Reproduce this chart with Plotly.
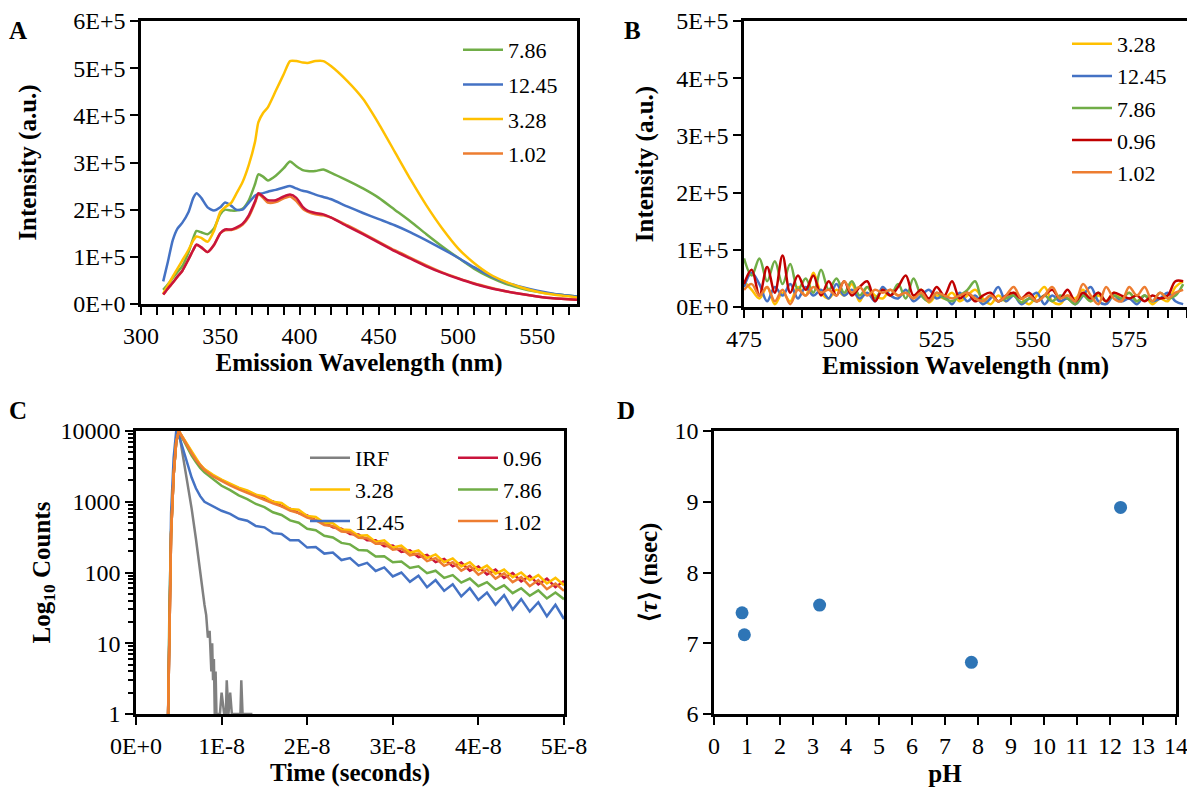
import plotly.graph_objects as go

# ---------------- Panel A data (emission spectra) ----------------
A_WL = [314, 317, 320, 323, 326, 330, 333, 335, 338, 342, 346, 350, 353, 357, 360, 364,
        368, 372, 374, 377, 380, 385, 390, 394, 398, 402, 405, 410, 415, 420, 430, 440,
        450, 460, 470, 480, 490, 500, 510, 520, 530, 540, 550, 560, 575]
A_786 = [0.30, 0.42, 0.55, 0.68, 0.80, 1.10, 1.40, 1.55, 1.52, 1.48, 1.60, 1.90, 2.00, 1.98, 1.98, 2.02,
         2.20, 2.55, 2.75, 2.70, 2.62, 2.72, 2.88, 3.02, 2.92, 2.84, 2.82, 2.82, 2.85, 2.78, 2.62, 2.45,
         2.25, 2.00, 1.75, 1.48, 1.22, 0.98, 0.75, 0.57, 0.43, 0.33, 0.26, 0.21, 0.16]
A_1245 = [0.48, 0.90, 1.35, 1.60, 1.72, 1.95, 2.25, 2.35, 2.25, 2.05, 1.98, 2.05, 2.15, 2.08, 2.00, 2.00,
          2.15, 2.30, 2.33, 2.35, 2.38, 2.42, 2.47, 2.50, 2.45, 2.40, 2.38, 2.32, 2.27, 2.22, 2.07, 1.93,
          1.80, 1.67, 1.52, 1.35, 1.17, 0.98, 0.78, 0.60, 0.46, 0.36, 0.28, 0.22, 0.16]
A_328 = [0.22, 0.40, 0.58, 0.75, 0.92, 1.15, 1.35, 1.43, 1.40, 1.32, 1.55, 1.95, 2.05, 2.15, 2.33, 2.58,
         2.95, 3.45, 3.85, 4.05, 4.17, 4.52, 4.87, 5.15, 5.15, 5.12, 5.11, 5.15, 5.15, 5.04, 4.73, 4.35,
         3.82, 3.23, 2.64, 2.09, 1.60, 1.18, 0.87, 0.63, 0.47, 0.35, 0.26, 0.20, 0.14]
A_102 = [0.20, 0.33, 0.45, 0.58, 0.70, 0.95, 1.15, 1.25, 1.20, 1.10, 1.25, 1.50, 1.56, 1.57, 1.60, 1.68,
         1.85, 2.15, 2.33, 2.25, 2.15, 2.16, 2.24, 2.28, 2.18, 2.02, 1.96, 1.90, 1.88, 1.83, 1.67, 1.50,
         1.32, 1.14, 0.98, 0.82, 0.67, 0.55, 0.44, 0.35, 0.27, 0.21, 0.16, 0.12, 0.09]
A_096 = [0.20, 0.33, 0.45, 0.58, 0.70, 0.95, 1.15, 1.26, 1.20, 1.10, 1.25, 1.50, 1.58, 1.58, 1.62, 1.70,
         1.88, 2.18, 2.35, 2.28, 2.20, 2.20, 2.28, 2.32, 2.25, 2.06, 1.98, 1.93, 1.90, 1.83, 1.65, 1.48,
         1.30, 1.12, 0.96, 0.80, 0.66, 0.54, 0.43, 0.34, 0.27, 0.21, 0.16, 0.12, 0.09]
A_SCALE = 1e5  # values above are in units of 1E+5 a.u.

# ---------------- Panel B data (emission above 475 nm) ----------------
B_WL = list(range(475, 590, 2))
B_328 = [4.5, 3.0, 1.5, 3.5, 0.5, 2.5, 1.0, 3.5, 2.0, 6.0, 2.5, 1.5, 3.0, 2.0, 4.0, 1.0, 3.5, 2.0, 1.5, 3.0,
         2.0, 2.5, 1.5, 3.0, 0.8, 2.0, 1.5, 2.5, 1.0, 2.0, 3.0, 1.5, 0.5, 2.0, 1.0, 2.5, 1.5, 0.5, 2.0, 3.5,
         1.0, 0.5, 2.0, 1.5, 3.0, 1.0, 2.0, 1.0, 2.5, 1.5, 2.5, 1.0, 2.0, 0.5, 1.5, 1.0, 3.5, 4.5]
B_1245 = [3.5, 6.0, 4.0, 1.0, 3.5, 2.0, 4.0, 1.5, 3.5, 2.0, 3.0, 1.5, 4.0, 2.0, 3.0, 1.5, 2.5, 1.0, 3.5, 2.0,
          1.5, 3.0, 1.0, 2.0, 3.0, 1.5, 2.0, 0.5, 2.5, 1.0, 2.0, 0.5, 1.5, 3.5, 1.0, 2.0, 0.5, 1.5, 2.5, 0.5,
          2.0, 1.0, 1.5, 0.5, 2.0, 3.5, 1.0, 0.5, 2.0, 1.0, 1.5, 0.5, 2.0, 1.0, 1.5, 2.5, 1.0, 0.5]
B_786 = [8.5, 5.5, 8.5, 4.5, 8.0, 4.0, 7.5, 3.0, 5.0, 2.5, 6.5, 3.0, 5.0, 2.5, 4.5, 2.0, 3.5, 1.5, 3.0, 2.0,
         4.0, 1.5, 5.0, 2.0, 1.0, 2.5, 1.5, 1.0, 2.0, 3.0, 4.5, 1.0, 2.0, 1.0, 1.5, 2.0, 0.8, 1.5, 1.0, 2.0,
         1.0, 2.0, 1.5, 0.5, 2.0, 1.0, 2.5, 1.0, 2.0, 1.5, 2.5, 1.0, 2.0, 1.0, 2.5, 1.5, 2.0, 4.0]
B_096 = [4.0, 6.5, 2.0, 7.0, 2.5, 9.0, 2.5, 5.5, 3.0, 5.5, 2.0, 4.5, 2.0, 4.5, 2.0, 3.5, 4.5, 1.0, 3.0, 2.0,
         3.5, 5.5, 2.0, 3.0, 1.5, 3.5, 2.0, 4.5, 1.5, 2.5, 1.0, 2.0, 2.5, 1.0, 2.0, 2.5, 1.5, 2.5, 1.0, 2.0,
         3.0, 1.5, 3.0, 1.0, 2.5, 1.5, 2.5, 1.0, 2.5, 2.0, 1.5, 2.0, 1.0, 2.0, 1.5, 2.0, 4.5, 4.5]
B_102 = [3.0, 4.0, 2.0, 3.5, 1.0, 3.0, 0.5, 3.0, 2.0, 3.5, 2.5, 3.0, 2.0, 4.5, 2.5, 3.5, 2.0, 3.0, 2.5, 3.0,
         2.0, 2.5, 1.5, 2.5, 1.0, 2.5, 2.0, 1.5, 2.0, 2.5, 1.5, 1.0, 2.0, 1.0, 2.0, 3.5, 1.5, 2.0, 1.0, 2.0,
         3.5, 1.5, 2.0, 1.0, 4.0, 2.0, 0.5, 3.5, 1.5, 1.0, 3.5, 2.0, 3.5, 1.0, 2.5, 1.5, 2.5, 3.0]
B_SCALE = 1e4  # values above are in units of 1E+4 a.u.

# ---------------- Panel C data (fluorescence decays, time in ns) ----------------
C_T = [3.75, 3.9, 4.1, 4.4, 4.7, 5.0, 5.5, 6.0, 6.5, 7.0, 7.5,
       8, 9, 10, 11, 12, 13, 14, 15, 16, 17, 18, 19, 20, 21, 22, 23, 24, 25, 26, 27, 28, 29,
       30, 31, 32, 33, 34, 35, 36, 37, 38, 39, 40, 41, 42, 43, 44, 45, 46, 47, 48, 49, 50]
C_328 = [1, 25, 350, 2400, 7000, 10000, 8000, 6300, 5050, 4050, 3350,
         2900, 2400, 2050, 1820, 1580, 1450, 1260, 1190, 1000, 960, 790, 770, 630, 610, 500, 495, 405, 400,
         330, 335, 270, 285, 225, 240, 190, 205, 160, 180, 140, 158, 122, 140, 108, 125, 96, 110, 86, 100,
         78, 92, 70, 84, 66]
C_096 = [1, 25, 350, 2400, 7000, 10000, 7900, 6200, 4950, 3950, 3300,
         2850, 2330, 2010, 1740, 1560, 1370, 1250, 1090, 1010, 870, 800, 690, 640, 545, 510, 435, 415, 350,
         345, 285, 285, 235, 240, 195, 205, 165, 178, 140, 156, 122, 138, 106, 122, 94, 110, 84, 98, 75,
         90, 68, 82, 62, 76]
C_102 = [1, 25, 350, 2400, 7000, 10000, 7800, 6100, 4850, 3900, 3250,
         2800, 2280, 1950, 1700, 1500, 1330, 1190, 1070, 950, 860, 750, 690, 595, 550, 470, 450, 380, 370,
         310, 305, 255, 258, 210, 218, 175, 185, 145, 160, 124, 140, 106, 124, 93, 110, 82, 97, 73, 86,
         64, 78, 58, 70, 55]
C_786 = [1, 30, 380, 2400, 7000, 10000, 7600, 5800, 4500, 3650, 3000,
         2600, 2060, 1680, 1460, 1230, 1090, 930, 840, 710, 650, 545, 505, 415, 395, 330, 312, 262, 250,
         208, 205, 168, 170, 140, 143, 116, 122, 98, 106, 84, 92, 72, 82, 64, 73, 57, 66, 51, 60,
         47, 56, 43, 52, 42]
C_1245 = [1, 40, 700, 4200, 10000, 8800, 5500, 3500, 2200, 1550, 1200,
          1000, 860, 745, 675, 575, 540, 455, 435, 360, 350, 285, 285, 225, 230, 185, 192, 150, 160,
          125, 137, 105, 118, 88, 100, 74, 90, 62, 78, 55, 68, 46, 60, 41, 52, 35, 48, 30, 42,
          28, 38, 24, 35, 22]
IRF_T = [3.75, 3.9, 4.1, 4.4, 4.7, 5.0, 5.5, 6.0, 6.5, 7.0, 7.5, 8.0, 8.2, 8.4, 8.6, 8.8, 8.9, 9.0,
         9.1, 9.2, 9.3, 9.4, 9.6, 9.8, 10.0, 10.3, 10.5, 10.6, 10.8, 11.0, 11.2, 11.4, 12.0, 12.2,
         12.3, 12.45, 12.6, 13.6]
IRF = [1, 25, 350, 2400, 7000, 10000, 4500, 1900, 800, 300, 95, 35, 25, 12, 15, 4, 10, 3,
       6, 1, 4, 1, 1, 1, 2, 1, 1, 3, 1, 2, 1, 1, 1, 1, 3, 1, 1, 1]
NS = 1e-9

# ---------------- Panel D data (average lifetime vs pH) ----------------
D_PH = [0.85, 0.92, 3.20, 7.80, 12.32]
D_TAU = [7.43, 7.12, 7.54, 6.73, 8.92]

# ---------------- labels ----------------
A_YTICKS = [0, 1e5, 2e5, 3e5, 4e5, 5e5, 6e5]
A_YTEXT = ["0E+0", "1E+5", "2E+5", "3E+5", "4E+5", "5E+5", "6E+5"]
B_YTICKS = [0, 1e5, 2e5, 3e5, 4e5, 5e5]
B_YTEXT = ["0E+0", "1E+5", "2E+5", "3E+5", "4E+5", "5E+5"]
C_XTICKS = [0, 1e-8, 2e-8, 3e-8, 4e-8, 5e-8]
C_XTEXT = ["0E+0", "1E-8", "2E-8", "3E-8", "4E-8", "5E-8"]
C_YTICKS = [1, 10, 100, 1000, 10000]
C_YTEXT = ["1", "10", "100", "1000", "10000"]
C_YMINOR = [m * d for d in (1, 10, 100, 1000) for m in (2, 3, 4, 5, 6, 7, 8, 9)]

COL = {"7.86": "#70AD47", "12.45": "#4472C4", "3.28": "#FFC000", "1.02": "#ED7D31",
       "0.96": "#C9143C", "0.96B": "#C00000", "IRF": "#808080"}

FONT = "Times New Roman"
# page has an 8 px body margin: figure is 1179x779 so that it fills the 1195x795 window
OFF = 8
W, H = 1179, 779


def px(x):
    return min(1.0, max(0.0, (x - OFF) / W))


def py(y):
    return min(1.0, max(0.0, 1 - (y - OFF) / H))


def xd(a, b):
    return [px(a), px(b)]


def yd(top, bottom):
    return [py(bottom), py(top)]


fig = go.Figure()
LW = 2.5

# Panel A
for name, vals, leg in [("7.86", A_786, True), ("12.45", A_1245, True), ("3.28", A_328, True),
                        ("1.02", A_102, True), ("0.96", A_096, False)]:
    fig.add_trace(go.Scatter(x=A_WL, y=[v * A_SCALE for v in vals], mode="lines", name=name,
                             line=dict(color=COL[name], width=LW, shape="spline", smoothing=0.6),
                             xaxis="x", yaxis="y", legend="legend", showlegend=leg,
                             legendgroup="a" + name))

# Panel B
for name, vals in [("3.28", B_328), ("12.45", B_1245), ("7.86", B_786), ("0.96", B_096), ("1.02", B_102)]:
    c = COL["0.96B"] if name == "0.96" else COL[name]
    fig.add_trace(go.Scatter(x=B_WL, y=[v * B_SCALE for v in vals], mode="lines", name=name,
                             line=dict(color=c, width=LW, shape="spline", smoothing=1.0),
                             xaxis="x2", yaxis="y2", legend="legend2", legendgroup="b" + name))

# Panel C
fig.add_trace(go.Scatter(x=[t * NS for t in IRF_T], y=IRF, mode="lines", name="IRF",
                         line=dict(color=COL["IRF"], width=LW), xaxis="x3", yaxis="y3",
                         legend="legend3", legendgroup="cIRF", legendrank=1))
for name, vals, leg, rank in [("12.45", C_1245, "legend3", 3), ("7.86", C_786, "legend4", 2),
                              ("0.96", C_096, "legend4", 1), ("3.28", C_328, "legend3", 2),
                              ("1.02", C_102, "legend4", 3)]:
    fig.add_trace(go.Scatter(x=[t * NS for t in C_T], y=vals, mode="lines", name=name,
                             line=dict(color=COL[name], width=LW), xaxis="x3", yaxis="y3",
                             legend=leg, legendgroup="c" + name, legendrank=rank))

# Panel D
fig.add_trace(go.Scatter(x=D_PH, y=D_TAU, mode="markers", name="tau",
                         marker=dict(color="#2E75B6", size=13), xaxis="x4", yaxis="y4",
                         showlegend=False))


def tf(size=24):
    return dict(family=FONT, size=size, color="black")


titlefont = dict(family=FONT, size=25, color="black", weight="bold")
common = dict(showline=True, linecolor="black", linewidth=2.5, mirror=True, ticks="outside",
              tickcolor="black", tickwidth=2, ticklen=8, showgrid=False, zeroline=False,
              automargin=False)


def leg(x, y, gap, size=22):
    return dict(x=px(x), y=py(y), font=dict(family=FONT, size=size, color="black"),
                bgcolor="rgba(0,0,0,0)", borderwidth=0,
                xanchor="left", yanchor="top", tracegroupgap=gap, itemwidth=40)


fig.update_layout(
    template="none",
    width=W, height=H, margin=dict(l=0, r=0, t=0, b=0, autoexpand=False),
    paper_bgcolor="white", plot_bgcolor="white",
    font=dict(family=FONT, color="black", size=24),
    xaxis=dict(domain=xd(141, 577), anchor="y", range=[300, 575], tick0=300, dtick=50,
               minor=dict(dtick=10, ticks="outside", ticklen=8, tickcolor="black", tickwidth=2),
               tickfont=tf(),
               title=dict(text="Emission Wavelength (nm)", font=titlefont, standoff=2), **common),
    yaxis=dict(domain=yd(21, 304), anchor="x", range=[0, 6e5], tickmode="array",
               tickvals=A_YTICKS, ticktext=A_YTEXT, tickfont=tf(),
               title=dict(text="Intensity (a.u.)", font=titlefont, standoff=30), **common),
    xaxis2=dict(domain=xd(744, 1191), anchor="y2", range=[475, 590], tick0=475, dtick=25,
                minor=dict(dtick=5, ticks="outside", ticklen=8, tickcolor="black", tickwidth=2),
                tickfont=tf(),
                title=dict(text="Emission Wavelength (nm)", font=titlefont, standoff=2), **common),
    yaxis2=dict(domain=yd(21, 307), anchor="x2", range=[0, 5e5], tickmode="array",
                tickvals=B_YTICKS, ticktext=B_YTEXT, tickfont=tf(),
                title=dict(text="Intensity (a.u.)", font=titlefont, standoff=16), **common),
    xaxis3=dict(domain=xd(136, 564), anchor="y3", range=[0, 5e-8], tickmode="array",
                tickvals=C_XTICKS, ticktext=C_XTEXT, tickfont=tf(),
                title=dict(text="Time (seconds)", font=titlefont, standoff=8), **common),
    yaxis3=dict(domain=yd(431, 714), anchor="x3", type="log", range=[0, 4], tickmode="array",
                tickvals=C_YTICKS, ticktext=C_YTEXT, tickfont=tf(),
                minor=dict(tickmode="array", tickvals=C_YMINOR, ticks="outside", ticklen=5,
                           tickcolor="black", tickwidth=2),
                title=dict(text="Log<sub>10</sub> Counts", font=titlefont, standoff=3), **common),
    xaxis4=dict(domain=xd(714, 1176), anchor="y4", range=[0, 14], dtick=1, tick0=0,
                tickfont=tf(), ticklabeloverflow="allow",
                title=dict(text="pH", font=titlefont, standoff=12), **common),
    yaxis4=dict(domain=yd(431, 714), anchor="x4", range=[6, 10], dtick=1, tick0=6,
                tickfont=tf(),
                title=dict(text="⟨<i>τ</i>⟩ (nsec)", font=titlefont, standoff=10), **common),
    legend=leg(458, 29, 3),
    legend2=leg(1067, 23, 0.5),
    legend3=leg(305, 437, 0),
    legend4=leg(453, 437, 0),
    showlegend=True,
)

for txt, x, y in [("A", 18, 30), ("B", 632, 30), ("C", 18, 410), ("D", 626, 410)]:
    fig.add_annotation(text=txt, x=px(x), y=py(y), xref="paper", yref="paper",
                       showarrow=False, xanchor="center", yanchor="middle",
                       font=dict(family=FONT, size=25, color="black", weight="bold"))

fig.write_html("out.html")
